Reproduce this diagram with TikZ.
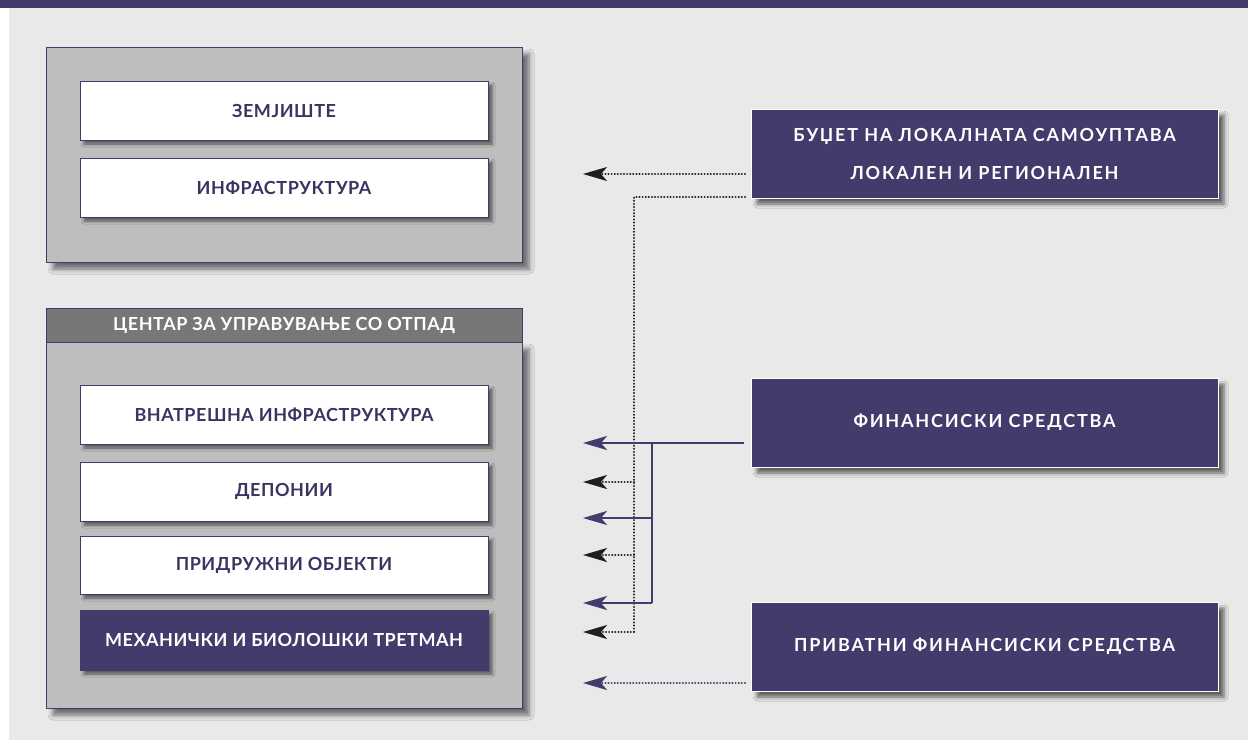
\documentclass[tikz,border=0pt]{standalone}
\usepackage{fontspec}
\setmainfont{Lato}
\usetikzlibrary{arrows.meta,shadows.blur}
\definecolor{purp}{HTML}{433B6B}
\definecolor{bggray}{HTML}{E9E9E9}
\definecolor{outergray}{HTML}{BEBEBE}
\definecolor{headgray}{HTML}{777777}
\definecolor{txtpurp}{HTML}{3B3463}
\definecolor{dotblack}{HTML}{1E1E1E}
\tikzset{
  lbl/.style={font=\fontsize{18}{38}\selectfont\bfseries\addfontfeature{LetterSpace=3}},
  rlbl/.style={font=\fontsize{18}{38}\selectfont\bfseries\addfontfeature{LetterSpace=10}},
  outerbox/.style={draw=purp, line width=0.9pt, fill=outergray, minimum width=476pt, inner sep=0pt,
    blur shadow={shadow xshift=7pt, shadow yshift=-7pt, shadow blur radius=5pt, shadow opacity=55}},
  headbox/.style={draw=purp, line width=0.9pt, fill=headgray, minimum width=476pt, minimum height=34pt,
    inner sep=0pt, text=white, lbl},
  inbox/.style={draw=purp, line width=0.9pt, fill=white, minimum width=408pt, minimum height=59pt,
    inner sep=0pt, text=txtpurp, lbl,
    blur shadow={shadow xshift=4pt, shadow yshift=-4pt, shadow blur radius=3pt, shadow opacity=55}},
  darkbox/.style={inbox, fill=purp, draw=purp, text=white},
  srcbox/.style={draw=white, line width=1pt, fill=purp, minimum width=467pt, minimum height=89pt,
    inner sep=0pt, text=white, align=center, rlbl,
    blur shadow={shadow xshift=6pt, shadow yshift=-6pt, shadow blur radius=4pt, shadow opacity=60}},
  tip/.style={-{Stealth[length=24pt, width=14pt, inset=6pt]}},
  dotline/.style={dotblack, line width=2pt, line cap=round, dash pattern=on 0.2pt off 2.9pt},
  purpdot/.style={purp, line width=2pt, line cap=round, dash pattern=on 0.2pt off 2.9pt},
  solidline/.style={purp, line width=2.2pt},
}
\begin{document}
\begin{tikzpicture}[x=1pt, y=-1pt]
\useasboundingbox (0,0) rectangle (1248,740);
% background
\fill[white] (0,0) rectangle (1248,740);
\fill[bggray] (9,8) rectangle (1248,740);
\fill[purp] (0,0) rectangle (1248,8);

% left group 1
\node[outerbox, minimum height=215pt] (outer1) at (284,154.5) {};
\node[inbox] (zem) at (284,110.5) {ЗЕМЈИШТЕ};
\node[inbox] (infra) at (284,187.5) {ИНФРАСТРУКТУРА};

% left group 2
\node[outerbox, minimum height=366pt] (outer2) at (284,525) {};
\node[headbox] (head) at (284,325) {ЦЕНТАР ЗА УПРАВУВАЊЕ СО ОТПАД};
\node[inbox] (vnat) at (284,414.5) {ВНАТРЕШНА ИНФРАСТРУКТУРА};
\node[inbox] (depo) at (284,491.5) {ДЕПОНИИ};
\node[inbox, minimum height=58pt] (prid) at (284,565) {ПРИДРУЖНИ ОБЈЕКТИ};
\node[darkbox, minimum height=60pt] (mbt) at (284,640) {МЕХАНИЧКИ И БИОЛОШКИ ТРЕТМАН};

% sources
\node[srcbox] (budget) at (984.5,153.5) {БУЏЕТ НА ЛОКАЛНАТА САМОУПТАВА\\ЛОКАЛЕН И РЕГИОНАЛЕН};
\node[srcbox] (fin) at (984.5,422.5) {ФИНАНСИСКИ СРЕДСТВА};
\node[srcbox] (priv) at (984.5,646.5) {ПРИВАТНИ ФИНАНСИСКИ СРЕДСТВА};

% connector coordinates
\coordinate (bs1) at (745,174);
\coordinate (bt1) at (583,174);
\coordinate (bs2) at (745,197);
\coordinate (bj) at (634,197);
\coordinate (bt2) at (583,482);
\coordinate (bt3) at (583,555);
\coordinate (bt4) at (583,632);
\coordinate (fs) at (744,443);
\coordinate (fj) at (652,443);
\coordinate (ft1) at (583,443);
\coordinate (ft2) at (583,518);
\coordinate (ft3) at (583,603);
\coordinate (ps) at (745,683);
\coordinate (pt) at (583,683);

% budget connectors (dotted black)
\draw[dotline, tip] (bs1) -- (bt1);
\draw[dotline] (bs2) -- (bj) -- (bj |- bt4);
\draw[dotline, tip] (bj |- bt2) -- (bt2);
\draw[dotline, tip] (bj |- bt3) -- (bt3);
\draw[dotline, tip] (bj |- bt4) -- (bt4);

% financial connectors (solid purple)
\draw[solidline, tip] (fs) -- (ft1);
\draw[solidline] (fj) -- (fj |- ft3);
\draw[solidline, tip] (fj |- ft2) -- (ft2);
\draw[solidline, tip] (fj |- ft3) -- (ft3);

% private connector (dotted purple)
\draw[purpdot, tip] (ps) -- (pt);
\end{tikzpicture}
\end{document}
